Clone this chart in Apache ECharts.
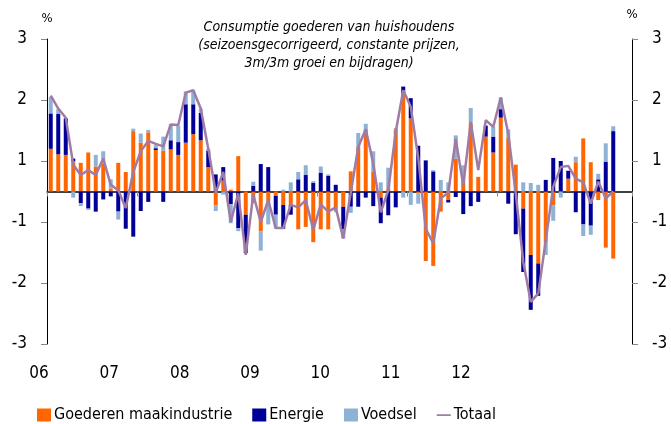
<!DOCTYPE html>
<html>
<head>
<meta charset="utf-8">
<script src="https://cdn.jsdelivr.net/npm/echarts@6/dist/echarts.min.js"></script>
<style>
  html, body { margin: 0; padding: 0; background: #fff; }
  #chart1 { width: 671px; height: 424px; }
</style>
</head>
<body>
<div id="chart1"></div>
<script>
// maandcijfers jan 2006 - apr 2012, 3m/3m groei en bijdragen (%)
const jaarLabels = ["06", "07", "08", "09", "10", "11", "12"];
const yTickLabels = ["-3", "-2", "-1", "1", "2", "3"];

const maakindustrie = [
  0.70, 0.61, 0.60, 0.50, 0.47, 0.64, 0.41, 0.46, 0.05, 0.47, 0.32, 0.99,
  0.80, 0.97, 0.68, 0.67, 0.69, 0.60, 0.80, 0.94, 0.84, 0.40, -0.23, 0.18,
  0.03, 0.58, -0.38, -0.19, -0.65, -0.17, -0.07, -0.22, -0.22, -0.62, -0.58, -0.83,
  -0.62, -0.62, -0.27, -0.25, 0.33, 0.73, 1.02, 0.33, -0.10, 0.05, 1.01, 1.61,
  1.20, -0.03, -1.14, -1.22, -0.33, -0.14, 0.54, 0.16, 1.11, 0.24, 0.90, 0.64,
  1.21, 0.88, 0.44, -0.28, -1.04, -1.18, -0.83, -0.23, 0.00, 0.21, 0.48, 0.87,
  0.48, -0.14, -0.92, -1.10
];
const energie = [
  0.58, 0.66, 0.60, 0.04, -0.19, -0.28, -0.33, -0.13, -0.08, -0.33, -0.61, -0.74,
  -0.32, -0.17, 0.03, -0.17, 0.15, 0.21, 0.63, 0.49, 0.45, 0.27, 0.28, 0.22,
  -0.21, -0.60, -0.63, 0.09, 0.45, 0.40, -0.31, -0.39, -0.16, 0.20, 0.27, 0.14,
  0.31, 0.26, 0.11, -0.37, -0.25, -0.25, -0.10, -0.24, -0.42, -0.39, -0.26, 0.11,
  0.33, 0.75, 0.51, 0.33, 0.00, -0.04, -0.09, -0.37, -0.24, -0.17, 0.18, 0.26,
  0.14, -0.20, -0.70, -1.04, -0.90, -0.53, 0.19, 0.55, 0.50, 0.13, -0.34, -0.54,
  -0.56, 0.20, 0.49, 0.99
];
const voedsel = [
  0.27, 0.08, 0.00, -0.10, -0.05, -0.02, 0.19, 0.20, 0.15, -0.13, 0.00, 0.04,
  0.15, 0.04, 0.05, 0.23, 0.26, 0.27, 0.21, 0.23, 0.07, 0.03, -0.09, -0.05,
  -0.31, -0.05, 0.00, 0.07, -0.32, -0.37, -0.23, 0.03, 0.15, 0.12, 0.16, 0.03,
  0.10, 0.02, -0.07, -0.15, -0.10, 0.23, 0.09, 0.33, 0.15, 0.34, 0.03, -0.10,
  -0.22, -0.17, 0.00, 0.02, 0.19, 0.15, 0.38, 0.27, 0.26, 0.00, 0.00, 0.16,
  0.19, 0.14, 0.00, 0.15, 0.14, 0.11, -0.21, -0.25, -0.10, 0.00, 0.09, -0.19,
  -0.15, 0.09, 0.30, 0.08
];
const totaal = [
  1.57, 1.36, 1.21, 0.44, 0.27, 0.35, 0.27, 0.54, 0.11, 0.02, -0.27, 0.32,
  0.66, 0.83, 0.78, 0.74, 1.10, 1.09, 1.62, 1.66, 1.36, 0.70, -0.02, 0.32,
  -0.50, -0.03, -1.04, -0.05, -0.50, -0.14, -0.60, -0.60, -0.22, -0.26, -0.14, -0.63,
  -0.21, -0.33, -0.26, -0.77, -0.02, 0.73, 1.02, 0.46, -0.34, 0.02, 0.98, 1.66,
  1.39, 0.55, -0.61, -0.85, -0.11, -0.02, 0.86, 0.10, 1.14, 0.35, 1.17, 1.06,
  1.54, 0.95, -0.03, -1.15, -1.81, -1.67, -0.80, 0.08, 0.40, 0.42, 0.21, 0.15,
  -0.20, 0.16, -0.11, 0.00
];

// as loopt door tot en met juni 2012
const maanden = [];
for (let j = 0; j < 78; j++) {
  maanden.push((2006 + Math.floor(j / 12)) + "-" + String((j % 12) + 1).padStart(2, "0"));
}

const FONT = "'DejaVu Sans Condensed', 'DejaVu Sans', sans-serif";
// dun streepje als legend-icoon voor de lijn (punten boven/onder houden de hoogte vast)
const LIJN_ICOON = "path://M0,0 L0.01,0 L0.01,0.01 Z M0,6 L16,6 L16,8 L0,8 Z M0,14 L0.01,14 L0.01,13.99 Z";

const yAs = (pos, gap) => ({
  type: "value",
  gridIndex: 0,
  position: pos,
  min: -2.5,
  max: 2.5,
  interval: 1,
  name: "%",
  nameLocation: "end",
  nameGap: gap,
  nameTextStyle: { fontFamily: FONT, fontSize: 13, color: "#000" },
  axisLine: { show: true, lineStyle: { color: "#000", width: 1 } },
  axisTick: { show: true, length: 6, lineStyle: { color: "#888" } },
  axisLabel: {
    margin: 20,
    fontFamily: FONT,
    fontSize: 17,
    color: "#000",
    formatter: (v, i) => yTickLabels[i],
  },
  splitLine: { show: false },
});

const getOption = () => {
  return {
    animation: false,
    title: {
      text: "Consumptie goederen van huishoudens\n(seizoensgecorrigeerd, constante prijzen,\n3m/3m groei en bijdragen)",
      left: 324,
      top: 13,
      textAlign: "center",
      textStyle: {
        fontFamily: FONT,
        fontStyle: "italic",
        fontWeight: "normal",
        fontSize: 14,
        lineHeight: 18,
        color: "#000",
      },
    },
    legend: {
      left: 32,
      top: 402,
      itemWidth: 14,
      itemHeight: 13,
      itemGap: 20,
      textStyle: { fontFamily: FONT, fontSize: 16, color: "#000", padding: [0, 0, 0, -2] },
      data: [
        { name: "Goederen maakindustrie", icon: "rect" },
        { name: "Energie", icon: "rect" },
        { name: "Voedsel", icon: "rect" },
        { name: "Totaal", icon: LIJN_ICOON },
      ],
    },
    grid: [
      { left: 47, right: 39, top: 39, bottom: 80 },
      { left: 39, right: 210, top: 39, bottom: 80 },
    ],
    xAxis: [
      {
        type: "category",
        gridIndex: 0,
        data: maanden,
        boundaryGap: true,
        axisLine: { onZero: true, lineStyle: { color: "#000", width: 1.5 } },
        axisTick: {
          show: true,
          length: 5,
          interval: (i) => i % 12 === 0,
          lineStyle: { color: "#888" },
        },
        axisLabel: { show: false },
        splitLine: { show: false },
      },
      {
        type: "category",
        gridIndex: 1,
        data: jaarLabels,
        boundaryGap: false,
        axisLine: { show: false, onZero: false },
        axisTick: { show: false },
        axisLabel: { margin: 21, fontFamily: FONT, fontSize: 17, color: "#000", interval: 0 },
        splitLine: { show: false },
      },
    ],
    yAxis: [
      yAs("left", 14),
      yAs("right", 18),
      { type: "value", gridIndex: 1, show: false, min: 0, max: 1 },
    ],
    series: [
      {
        name: "Goederen maakindustrie",
        type: "bar",
        stack: "bijdragen",
        barWidth: 4,
        itemStyle: { color: "#ff6600" },
        data: maakindustrie,
      },
      {
        name: "Energie",
        type: "bar",
        stack: "bijdragen",
        barWidth: 4,
        itemStyle: { color: "#000099" },
        data: energie,
      },
      {
        name: "Voedsel",
        type: "bar",
        stack: "bijdragen",
        barWidth: 4,
        itemStyle: { color: "#8eb1d6" },
        data: voedsel,
      },
      {
        name: "Totaal",
        type: "line",
        symbol: "none",
        lineStyle: { color: "#a07ba5", width: 2.5 },
        itemStyle: { color: "#a07ba5" },
        data: totaal,
        z: 5,
      },
    ],
  };
};

const initCharts = () => {
  const chart1 = echarts.init(document.getElementById("chart1"));
  chart1.setOption(getOption());
};

window.addEventListener("load", () => {
  initCharts();
});
</script>
</body>
</html>
